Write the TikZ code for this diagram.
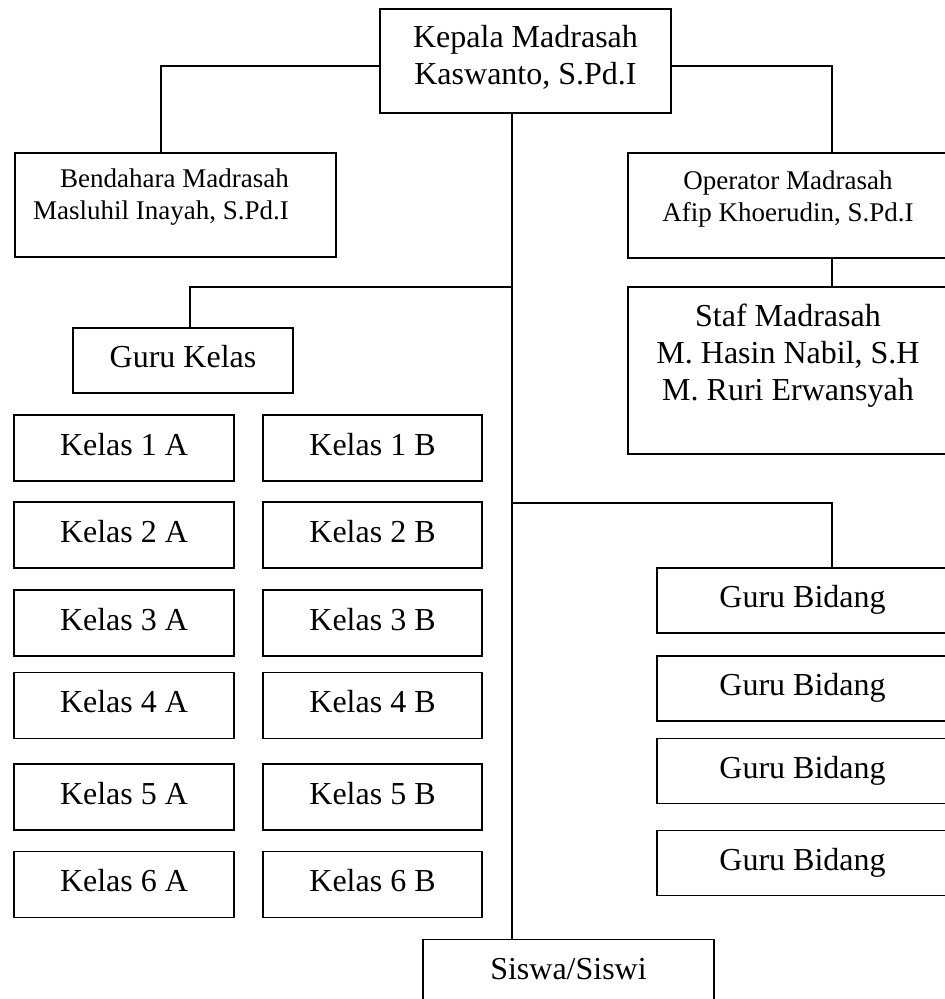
\documentclass[tikz,border=0pt]{standalone}
\usepackage{fontspec}
\setmainfont{Liberation Serif}
\usetikzlibrary{positioning, calc}

\begin{document}
\begin{tikzpicture}[
  x=1pt, y=-1pt,
  box/.style={draw, line width=1.4pt, inner sep=0pt, align=center,
              font=\fontsize{32}{37}\selectfont},
  smallbox/.style={box, font=\fontsize{27}{32}\selectfont},
  oneline/.style={box, text height=21pt, text depth=7pt},
  kelas/.style={oneline, minimum width=220pt, minimum height=66pt},
  bidang/.style={oneline, minimum width=291pt, minimum height=65pt},
  link/.style={line width=1.4pt},
]
\useasboundingbox (0,0) rectangle (945,999);
\clip (0,0) rectangle (945,999);

% ---- Pimpinan -------------------------------------------------------------
\node[box, minimum width=291pt, minimum height=104pt] (kepala) at (525.5, 61)
  {\raisebox{0pt}[\height][\dimexpr\depth+4pt\relax]{\begin{tabular}{@{}c@{}}Kepala Madrasah\\Kaswanto, S.Pd.I\end{tabular}}};

\node[smallbox, minimum width=321pt, minimum height=104pt] (bendahara) at (175.5, 205)
  {\raisebox{0pt}[\height][\dimexpr\depth+15pt\relax]{\begin{tabular}{@{}r@{\hspace{29pt}}}Bendahara Madrasah\\Masluhil Inayah, S.Pd.I\end{tabular}}};

\node[smallbox, minimum width=320pt, minimum height=105pt] (operator) at (788, 205.5)
  {\raisebox{0pt}[\height][\dimexpr\depth+13pt\relax]{\begin{tabular}{@{}c@{}}Operator Madrasah\\Afip Khoerudin, S.Pd.I\end{tabular}}};

\node[box, minimum width=320pt, minimum height=167pt] (staf) at (788, 370.5)
  {\raisebox{0pt}[\height][\dimexpr\depth+29pt\relax]{\begin{tabular}{@{}c@{}}Staf Madrasah\\M. Hasin Nabil, S.H\\M. Ruri Erwansyah\end{tabular}}};

% ---- Guru kelas -----------------------------------------------------------
\node[oneline, minimum width=220pt, minimum height=65pt] (gurukelas) at (183, 360.5) {Guru Kelas};

\foreach \i/\y in {1/448, 2/535, 3/623, 4/705.5, 5/797, 6/884.5} {
  \node[kelas] (kelas\i a) at (124, \y) {Kelas \i\ A};
  \node[kelas, minimum width=219pt] (kelas\i b) at (372.5, \y) {Kelas \i\ B};
}

% ---- Guru bidang ----------------------------------------------------------
\foreach \i/\y in {1/600.5, 2/688.5, 3/771, 4/863} {
  \node[bidang] (bidang\i) at (802.5, \y) {Guru Bidang};
}

% ---- Siswa ----------------------------------------------------------------
\node[bidang] (siswa) at (568.5, 972) {Siswa/Siswi};

% ---- Garis ----------------------------------------------------------------
\coordinate (spine) at ([xshift=-13.5pt]kepala.south);
\coordinate (jk) at (512, 287);
\coordinate (jb) at (512, 503);

\draw[link] (spine) -- (spine |- siswa.north);
\draw[link] ([yshift=-5pt]kepala.west) -| ([xshift=-14.5pt]bendahara.north);
\draw[link] ([yshift=-5pt]kepala.east) -| ([xshift=44pt]operator.north);
\draw[link] ([xshift=44pt]operator.south) -- ([xshift=44pt]staf.north);
\draw[link] (jk) -| ([xshift=7pt]gurukelas.north);
\draw[link] (jb) -| ([xshift=29.5pt]bidang1.north);

\end{tikzpicture}
\end{document}
